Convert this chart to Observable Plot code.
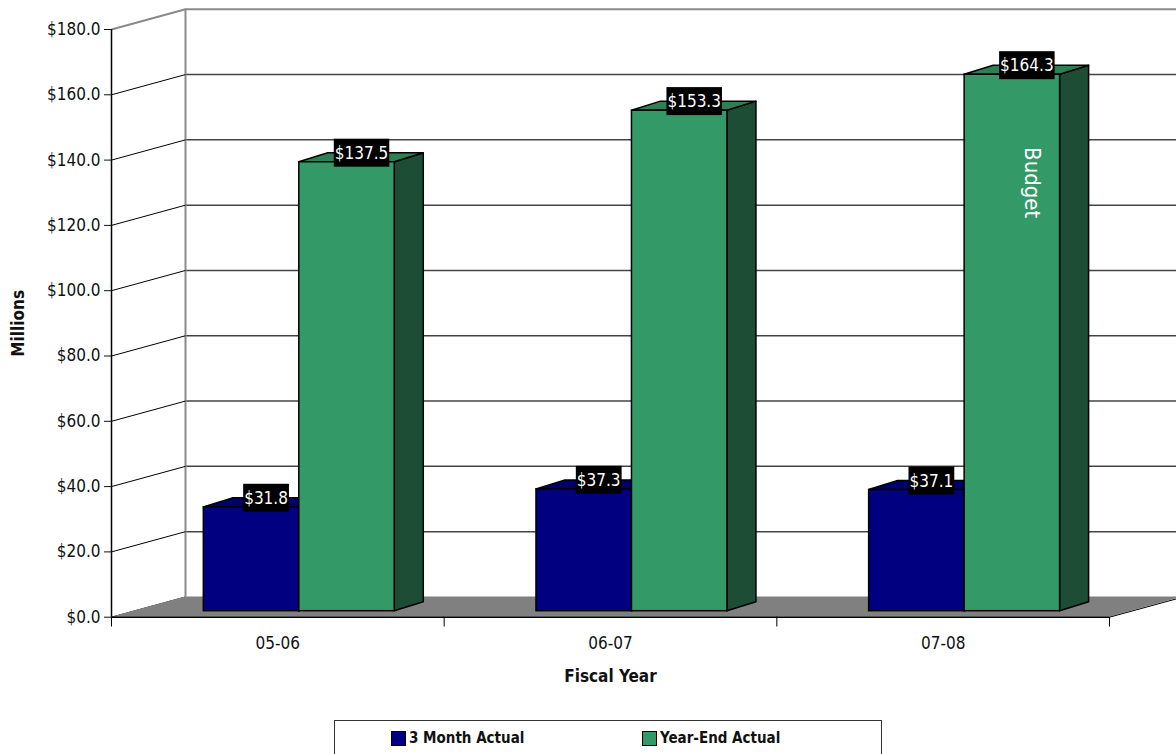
<!DOCTYPE html>
<html>
<head>
<meta charset="utf-8">
<script src="https://cdn.jsdelivr.net/npm/d3@7"></script>
<script src="https://cdn.jsdelivr.net/npm/@observablehq/plot@0.6"></script>
<style>
html, body { margin: 0; padding: 0; background: #fff; overflow: hidden; }
#wrap { position: relative; width: 1176px; height: 754px; overflow: hidden;
  font-family: "DejaVu Sans Condensed", "DejaVu Sans", sans-serif; font-stretch: condensed; }
#legend { position: absolute; left: 334px; top: 720px; width: 548px; height: 45px;
  border: 1px solid #333; box-sizing: border-box; background: #fff; }
.item { position: absolute; top: 9px; display: flex; align-items: center;
  font-weight: bold; color: #111; line-height: 16px; }
.sw { width: 15px; height: 15px; border: 1.5px solid #000; box-sizing: border-box; margin-right: 3px; }
</style>
</head>
<body>
<div id="wrap"></div>
<script>
// ---- data ----
const years = ["05-06", "06-07", "07-08"];
const seriesNames = ["3 Month Actual", "Year-End Actual"];
const threeMonthActual = [31.8, 37.3, 37.1];
const yearEndActual = [137.5, 153.3, 164.3];
const yTicks = [0, 20, 40, 60, 80, 100, 120, 140, 160, 180];
const annotations = [{year: "07-08", series: 1, text: "Budget"}];
const axisTitles = {x: "Fiscal Year", y: "Millions"};

// ---- fonts ----
const cx = document.createElement("canvas").getContext("2d");
function hasFont(name) {
  cx.font = "20px monospace";
  const a = cx.measureText("abcMWi05-$").width;
  cx.font = `20px "${name}", monospace`;
  return cx.measureText("abcMWi05-$").width !== a;
}
const NARROW = hasFont("Liberation Sans Narrow");
const condFont = '"DejaVu Sans Condensed", "DejaVu Sans", sans-serif';
const narrowFont = NARROW ? '"Liberation Sans Narrow", sans-serif' : condFont;
const catSize = NARROW ? 19.5 : 17;
const titleSize = NARROW ? 20 : 17;
const legendSize = NARROW ? 19 : 15;

// ---- styles / pseudo-3D projection (in scale units) ----
const frontColors = ["#000080", "#339966"];
const topColors = ["#00006b", "#2c8054"];
const sideColors = ["#00004d", "#1e4d35"];
const WDX = 0.2224, WDY = 6.2;          // wall depth
const BY = 1.84, BDX = 0.0872, BDY = 2.76; // bar base offset and bar depth
const BW = 0.287, PC = 0.5645;           // bar width, pair centre within band

const seriesValues = [threeMonthActual, yearEndActual];
const bars = [];
seriesNames.forEach((name, s) => {
  years.forEach((year, i) => {
    const value = seriesValues[s][i];
    const x0 = i + PC + (s - 1) * BW, x1 = x0 + BW;
    bars.push({year, i, s, name, value, x0, x1, top: value + BY, id: year + "-" + s});
  });
});
const topFaces = bars.flatMap(b => [
  {id: b.id, s: b.s, x: b.x0, lo: b.top, hi: b.top},
  {id: b.id, s: b.s, x: b.x0 + BDX, lo: b.top, hi: b.top + BDY},
  {id: b.id, s: b.s, x: b.x1, lo: b.top, hi: b.top + BDY},
  {id: b.id, s: b.s, x: b.x1 + BDX, lo: b.top + BDY, hi: b.top + BDY}
]);
const sideFaces = bars.flatMap(b => [
  {id: b.id, s: b.s, x: b.x1, lo: BY, hi: b.top},
  {id: b.id, s: b.s, x: b.x1 + BDX, lo: BY + BDY, hi: b.top + BDY}
]);
const nCat = years.length;
const floorPts = [
  {x: 0, lo: 0, hi: 0},
  {x: WDX, lo: 0, hi: WDY},
  {x: nCat, lo: 0, hi: WDY},
  {x: nCat + WDX, lo: WDY, hi: WDY}
];
const ymax = yTicks[yTicks.length - 1];
const fmt = v => "$" + v.toFixed(1);

const barMarks = [];
[0, 1].forEach(s => {
  barMarks.push(
    Plot.area(sideFaces.filter(d => d.s === s), {x1: "x", y1: "lo", y2: "hi", z: "id", curve: "linear",
      fill: sideColors[s], stroke: "#000", strokeWidth: 1.5, strokeLinejoin: "round"}),
    Plot.area(topFaces.filter(d => d.s === s), {x1: "x", y1: "lo", y2: "hi", z: "id", curve: "linear",
      fill: topColors[s], stroke: "#000", strokeWidth: 1.5, strokeLinejoin: "round"}),
    Plot.rect(bars.filter(d => d.s === s), {x1: "x0", x2: "x1", y1: () => BY, y2: "top",
      fill: frontColors[s], stroke: "#000", strokeWidth: 1.5})
  );
});

const annData = annotations.map(a => {
  const b = bars.find(d => d.year === a.year && d.s === a.series);
  return {...a, x: (b.x0 + b.x1) / 2 + 0.06, y: b.value * 0.81};
});

const plot = Plot.plot({
  width: 1176, height: 720,
  marginLeft: 111, marginRight: 67, marginTop: 29, marginBottom: 103.3,
  x: {domain: [0, nCat], axis: null},
  y: {domain: [0, ymax], ticks: yTicks, tickFormat: fmt, tickSize: 7, tickPadding: 4, label: null},
  style: {fontFamily: condFont, fontSize: "17px", color: "#111", background: "#fff", overflow: "hidden"},
  marks: [
    // back wall grid
    Plot.ruleY(yTicks.filter(t => t > 0 && t < ymax), {y: t => t + WDY, x1: () => WDX, x2: () => nCat + WDX + 0.2, stroke: "#444", strokeWidth: 1.5}),
    Plot.ruleY([ymax], {y: t => t + WDY, x1: () => WDX, x2: () => nCat + WDX + 0.2, stroke: "#8a8a8a", strokeWidth: 2}),
    Plot.ruleX([WDX], {y1: () => WDY, y2: () => ymax + WDY, stroke: "#8a8a8a", strokeWidth: 2}),
    // side wall diagonals
    Plot.link(yTicks.filter(t => t < ymax), {x1: () => 0, y1: t => t, x2: () => WDX, y2: t => t + WDY, stroke: "#000", strokeWidth: 1}),
    Plot.link([ymax], {x1: () => 0, y1: t => t, x2: () => WDX, y2: t => t + WDY, stroke: "#8a8a8a", strokeWidth: 2}),
    // floor
    Plot.area(floorPts, {x1: "x", y1: "lo", y2: "hi", curve: "linear", fill: "#808080"}),
    Plot.link([nCat], {x1: d => d, y1: () => 0, x2: d => d + WDX, y2: () => WDY, stroke: "#000", strokeWidth: 1}),
    Plot.ruleY([0], {x1: () => 0, x2: () => nCat, stroke: "#000", strokeWidth: 1.5}),
    // axes lines and category separators
    Plot.ruleX([0], {y1: () => 0, y2: () => ymax, stroke: "#000", strokeWidth: 1.5}),
    Plot.ruleX(d3.range(nCat + 1), {y1: () => 0, y2: () => -3, stroke: "#000", strokeWidth: 1}),
    // bars
    ...barMarks,
    // value labels
    Plot.text(bars, {x: d => (d.x0 + d.x1) / 2 + BDX / 2, y: d => d.top + BDY, text: d => fmt(d.value),
      fill: "#fff", fontSize: 17, ariaDescription: "value-label"}),
    Plot.text(annData, {x: "x", y: "y", text: "text", rotate: 90, fill: "#fff", fontSize: 22}),
    // category labels
    Plot.text(years, {x: (d, i) => i + 0.5, y: () => 0, dy: 26, text: d => d, fontSize: catSize, fontFamily: narrowFont, fill: "#111"}),
    // axis titles
    Plot.text([axisTitles.x], {frameAnchor: "bottom", dy: 59, lineAnchor: "middle", fontWeight: "bold", fontSize: titleSize, fontFamily: narrowFont, fill: "#111"}),
    Plot.text([axisTitles.y], {frameAnchor: "left", dx: -92.5, rotate: -90, textAnchor: "middle", lineAnchor: "middle", fontWeight: "bold", fontSize: titleSize, fontFamily: narrowFont, fill: "#111"})
  ]
});

const wrap = document.getElementById("wrap");
wrap.appendChild(plot);

// black boxes behind value labels
const NS = "http://www.w3.org/2000/svg";
const labelSet = new Set(bars.map(d => fmt(d.value)));
let labelTexts = Array.from(plot.querySelectorAll('g[aria-description="value-label"] text'));
if (!labelTexts.length) {
  labelTexts = Array.from(plot.querySelectorAll('g[aria-label="text"] text')).filter(t => labelSet.has(t.textContent));
}
labelTexts.forEach(t => {
  const bb = t.getBBox();
  const r = document.createElementNS(NS, "rect");
  r.setAttribute("x", bb.x - 1);
  r.setAttribute("y", bb.y - 4);
  r.setAttribute("width", bb.width + 2);
  r.setAttribute("height", bb.height + 8);
  r.setAttribute("fill", "#000");
  r.setAttribute("stroke", "none");
  const tr = t.getAttribute("transform");
  if (tr) r.setAttribute("transform", tr);
  t.parentNode.insertBefore(r, t);
});

// legend
const legend = document.createElement("div");
legend.id = "legend";
const itemLeft = [56, 307];
seriesNames.forEach((name, s) => {
  const it = document.createElement("div");
  it.className = "item";
  it.style.left = itemLeft[s] + "px";
  it.style.fontFamily = narrowFont;
  it.style.fontSize = legendSize + "px";
  const sw = document.createElement("span");
  sw.className = "sw";
  sw.style.background = frontColors[s];
  const tx = document.createElement("span");
  tx.textContent = name;
  it.appendChild(sw);
  it.appendChild(tx);
  legend.appendChild(it);
});
wrap.appendChild(legend);
</script>
</body>
</html>
